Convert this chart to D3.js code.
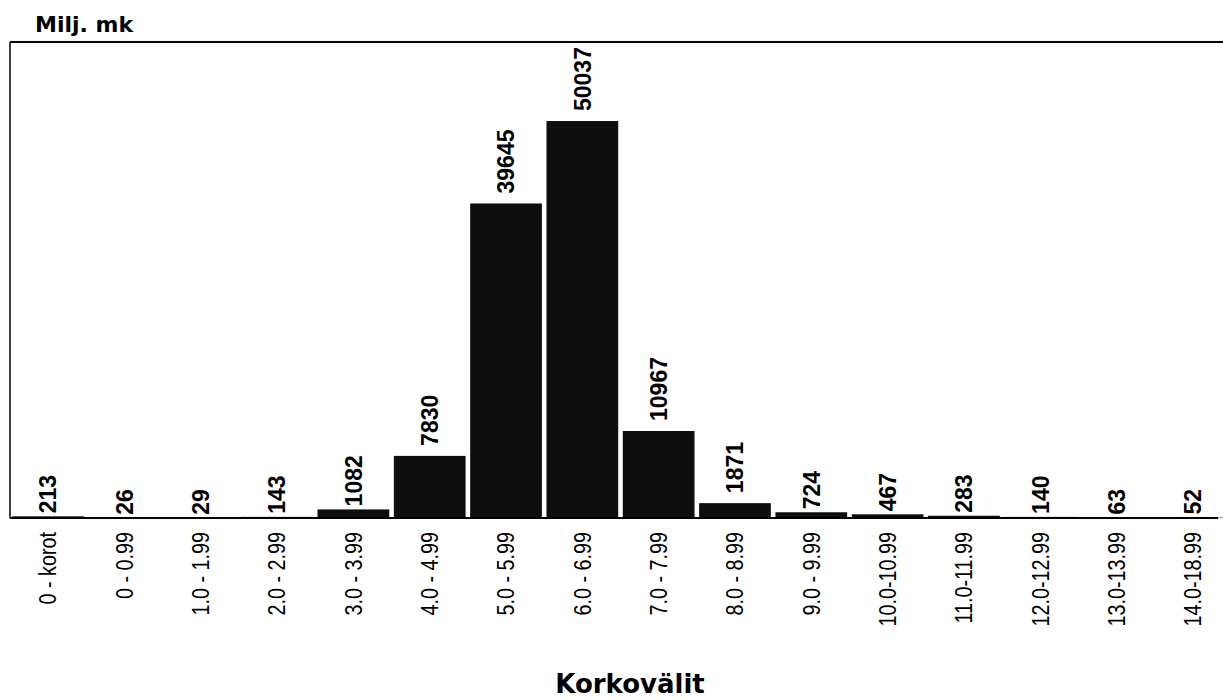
<!DOCTYPE html>
<html>
<head>
<meta charset="utf-8">
<script src="https://cdn.jsdelivr.net/npm/d3@7"></script>
<style>
    body { margin: 0; background: #fff; }
    .title { font-family: "DejaVu Sans", sans-serif; font-weight: bold; }
    .tick-label { font-family: "Liberation Sans", Arial, sans-serif; font-size: 23px; }
    .value { font-family: "Liberation Sans", Arial, sans-serif; font-weight: bold; font-size: 23px; }
</style>
</head>
<body>
<div id="chart"></div>
<script>
// categories (interest rate ranges) and amounts, million marks
var categories = ["0 - korot", "0 - 0.99", "1.0 - 1.99", "2.0 - 2.99", "3.0 - 3.99", "4.0 - 4.99",
    "5.0 - 5.99", "6.0 - 6.99", "7.0 - 7.99", "8.0 - 8.99", "9.0 - 9.99", "10.0-10.99",
    "11.0-11.99", "12.0-12.99", "13.0-13.99", "14.0-18.99"];
var values = [213, 26, 29, 143, 1082, 7830, 39645, 50037, 10967, 1871, 724, 467, 283, 140, 63, 52];
var yMax = 60000;

var width = 1223, height = 700;
var plot = { left: 10, right: 1231, top: 42, bottom: 518 };

var svg = d3.select("#chart")
    .append("svg")
        .attr("width", width)
        .attr("height", height);

var x = d3.scaleBand()
    .domain(categories)
    .range([plot.left, plot.right])
    .paddingInner(0.06)
    .paddingOuter(0.03);

var y = d3.scaleLinear()
    .domain([0, yMax])
    .range([plot.bottom, plot.top]);

var data = categories.map(function(c, i) { return { cat: c, val: values[i] }; });

// bars
svg.selectAll(".bar")
    .data(data)
    .enter().append("rect")
        .attr("class", "bar")
        .attr("x", function(d) { return x(d.cat); })
        .attr("y", function(d) { return y(d.val); })
        .attr("width", x.bandwidth())
        .attr("height", function(d) { return plot.bottom - y(d.val); })
        .style("fill", "#0e0e0e");

// frame: left side and top
svg.append("line")
    .attr("x1", plot.left).attr("x2", plot.left)
    .attr("y1", plot.top).attr("y2", plot.bottom)
    .style("stroke", "#000").style("stroke-width", 1.5);
svg.append("line")
    .attr("x1", plot.left).attr("x2", width)
    .attr("y1", plot.top).attr("y2", plot.top)
    .style("stroke", "#000").style("stroke-width", 1.8);

// baseline
svg.append("line")
    .attr("x1", plot.left).attr("x2", 1218)
    .attr("y1", plot.bottom).attr("y2", plot.bottom)
    .style("stroke", "#000").style("stroke-width", 2);

// value labels, rotated above the bars
svg.selectAll(".value")
    .data(data)
    .enter().append("text")
        .attr("class", "value")
        .attr("transform", function(d) {
            var cx = x(d.cat) + x.bandwidth() / 2;
            var h = plot.bottom - y(d.val);
            var gap = h < 10 ? 3 : 10; // tiny bars: label sits just on the line
            var ty = Math.min(y(d.val) - gap, plot.bottom - 3);
            return "translate(" + cx + "," + ty + ") rotate(-90)";
        })
        .attr("dy", "0.36em")
        .style("text-anchor", "start")
        .text(function(d) { return d.val; });

// category labels (squeezed along the text to look like a narrow face)
svg.selectAll(".tick-label")
    .data(categories)
    .enter().append("text")
        .attr("class", "tick-label")
        .attr("transform", function(d) {
            return "translate(" + (x(d) + x.bandwidth() / 2) + "," + 532 + ") rotate(-90) scale(0.86,1)";
        })
        .attr("dy", "0.36em")
        .style("text-anchor", "end")
        .text(function(d) { return d; });

// unit label
svg.append("text")
    .attr("class", "title")
    .attr("x", 35)
    .attr("y", 32)
    .style("font-size", "22px")
    .text("Milj. mk");

// x axis title
svg.append("text")
    .attr("class", "title")
    .attr("x", 630)
    .attr("y", 693)
    .style("font-size", "26px")
    .style("text-anchor", "middle")
    .text("Korkovälit");
</script>
</body>
</html>
